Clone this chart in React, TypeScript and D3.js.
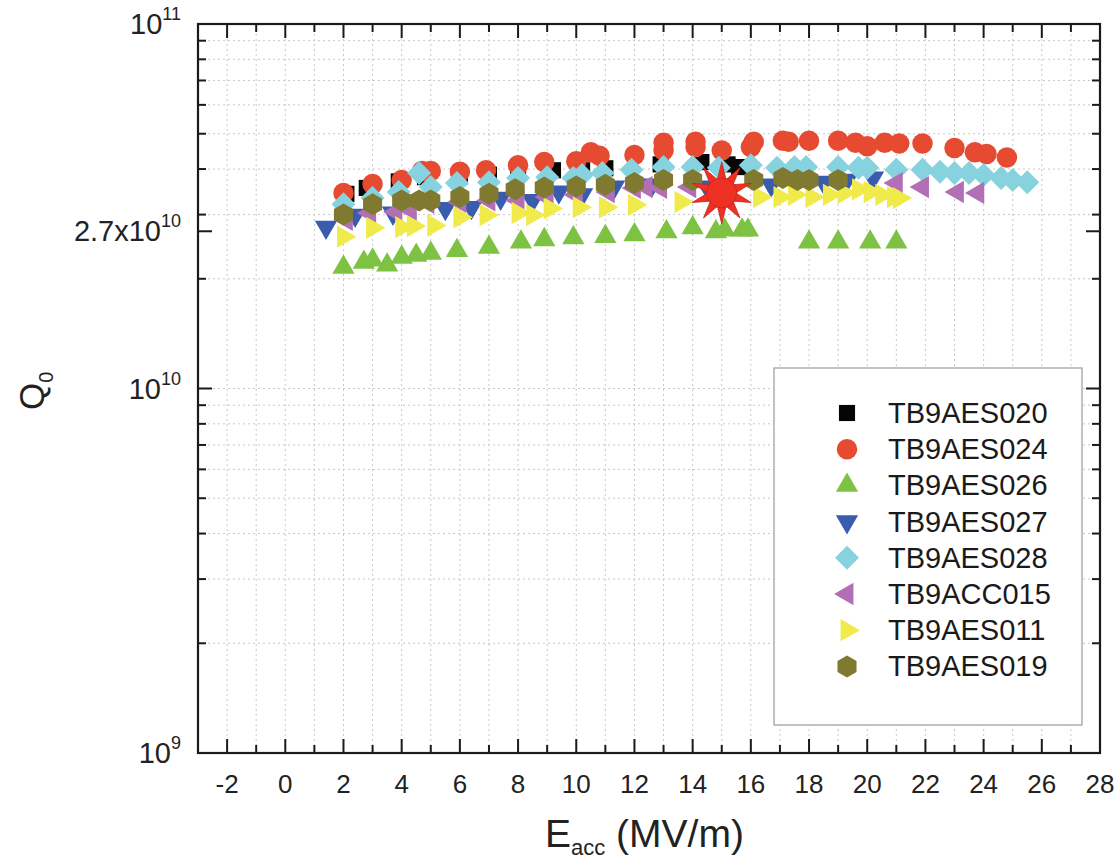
import React from "react";
import * as d3 from "d3";

// ---- data: [Eacc (MV/m), Q0] ----
const s020: [number, number][] = [
  [2.1, 3.42e10], [2.8, 3.55e10], [3.9, 3.7e10], [4.8, 3.8e10], [6.0, 3.82e10], [7.0, 3.86e10],
  [8.0, 3.9e10], [9.2, 3.97e10], [10.2, 3.97e10], [11.0, 4.02e10], [12.9, 4.12e10], [14.3, 4.18e10],
  [15.2, 4.12e10], [15.6, 4.05e10],
];
const s024: [number, number][] = [
  [2.0, 3.44e10], [3.0, 3.64e10], [4.0, 3.73e10], [4.7, 3.95e10], [5.0, 3.95e10], [6.0, 3.93e10],
  [6.9, 3.97e10], [8.0, 4.1e10], [8.9, 4.18e10], [10.0, 4.2e10], [10.5, 4.45e10], [10.8, 4.35e10],
  [12.0, 4.37e10], [13.0, 4.5e10], [13.0, 4.72e10], [14.1, 4.6e10], [14.1, 4.75e10], [15.0, 4.5e10],
  [16.0, 4.6e10], [16.1, 4.75e10], [17.1, 4.78e10], [17.3, 4.75e10], [18.0, 4.78e10], [19.0, 4.78e10],
  [19.6, 4.72e10], [20.0, 4.62e10], [20.6, 4.72e10], [21.1, 4.7e10], [21.9, 4.7e10], [23.0, 4.57e10],
  [23.7, 4.45e10], [24.1, 4.4e10], [24.8, 4.3e10],
];
const s026: [number, number][] = [
  [2.0, 2.15e10], [2.7, 2.22e10], [3.0, 2.25e10], [3.5, 2.18e10], [4.0, 2.29e10], [4.5, 2.32e10],
  [5.0, 2.35e10], [5.9, 2.39e10], [7.0, 2.44e10], [8.1, 2.52e10], [8.9, 2.56e10], [9.9, 2.59e10],
  [11.0, 2.61e10], [12.0, 2.64e10], [13.1, 2.69e10], [14.0, 2.76e10], [14.8, 2.69e10], [15.1, 2.72e10],
  [15.7, 2.72e10], [15.9, 2.72e10], [18.0, 2.52e10], [19.0, 2.52e10], [20.1, 2.52e10], [21.0, 2.52e10],
];
const s027: [number, number][] = [
  [1.4, 2.77e10], [2.4, 2.99e10], [3.7, 3.03e10], [5.5, 3.12e10], [6.4, 3.14e10], [7.4, 3.33e10],
  [8.5, 3.28e10], [9.4, 3.46e10], [10.2, 3.4e10], [11.3, 3.57e10], [12.6, 3.62e10], [14.5, 3.57e10],
  [16.7, 3.62e10], [18.5, 3.68e10], [19.3, 3.73e10], [20.2, 3.78e10],
];
const s028: [number, number][] = [
  [2.0, 3.2e10], [3.0, 3.33e10], [3.9, 3.46e10], [4.6, 3.9e10], [5.0, 3.57e10], [5.9, 3.66e10],
  [7.0, 3.68e10], [8.0, 3.78e10], [9.0, 3.8e10], [9.9, 3.78e10], [10.2, 3.85e10], [10.9, 3.9e10],
  [11.9, 3.98e10], [13.0, 4.05e10], [14.0, 4.05e10], [14.9, 4.03e10], [16.0, 4.1e10], [16.9, 4.03e10],
  [17.5, 4.05e10], [17.9, 4.05e10], [19.0, 4.05e10], [19.7, 4.03e10], [20.0, 4.03e10], [21.0, 3.98e10],
  [21.9, 3.98e10], [22.5, 3.93e10], [23.0, 3.9e10], [23.5, 3.9e10], [24.0, 3.85e10], [24.6, 3.78e10],
  [25.0, 3.73e10], [25.5, 3.68e10],
];
const sACC015: [number, number][] = [
  [2.1, 2.9e10], [2.9, 3.03e10], [3.8, 3.05e10], [4.3, 3.09e10], [4.9, 3.23e10], [6.0, 3.25e10],
  [7.0, 3.28e10], [8.0, 3.28e10], [9.0, 3.35e10], [10.0, 3.4e10], [11.1, 3.46e10], [12.0, 3.55e10],
  [12.4, 3.57e10], [12.9, 3.55e10], [13.9, 3.57e10], [21.0, 3.66e10], [21.9, 3.57e10], [23.1, 3.46e10],
  [23.8, 3.44e10],
];
const s011: [number, number][] = [
  [2.0, 2.61e10], [3.0, 2.76e10], [4.0, 2.77e10], [4.4, 2.79e10], [5.1, 2.8e10], [6.0, 2.95e10],
  [6.9, 2.99e10], [8.0, 3.03e10], [8.5, 2.99e10], [9.1, 3.12e10], [10.1, 3.14e10], [11.0, 3.14e10],
  [12.0, 3.19e10], [13.6, 3.25e10], [16.3, 3.35e10], [17.0, 3.35e10], [17.5, 3.4e10], [18.1, 3.35e10],
  [18.7, 3.4e10], [19.2, 3.44e10], [19.7, 3.52e10], [20.1, 3.46e10], [20.5, 3.4e10], [20.9, 3.35e10],
  [21.1, 3.33e10],
];
const s019: [number, number][] = [
  [2.0, 3.0e10], [3.0, 3.2e10], [4.0, 3.28e10], [4.6, 3.28e10], [5.0, 3.28e10], [6.0, 3.35e10],
  [7.0, 3.42e10], [7.9, 3.52e10], [8.9, 3.56e10], [10.0, 3.58e10], [11.0, 3.62e10], [12.0, 3.66e10],
  [13.0, 3.73e10], [14.0, 3.73e10], [16.1, 3.73e10], [17.1, 3.78e10], [17.6, 3.73e10], [18.0, 3.73e10],
  [19.0, 3.73e10],
];
const highlight: [number, number][] = [[15.0, 3.44e10]];

const seriesNames = ["TB9AES020", "TB9AES024", "TB9AES026", "TB9AES027", "TB9AES028", "TB9ACC015", "TB9AES011", "TB9AES019"];
const seriesData = [s020, s024, s026, s027, s028, sACC015, s011, s019];
const seriesColors = ["#050505", "#e64a31", "#7dc242", "#3a5cae", "#86d3df", "#b26fb6", "#f0ea4a", "#807a30"];
const seriesShapes = ["square", "circle", "up", "down", "diamond", "left", "right", "hex"];

const xMajorTicks = d3.range(-2, 29, 2);
const xMinorTicks = d3.range(-1, 28, 2);
const xGrid = d3.range(-2, 28, 1);
const yMajorTicks = [1e9, 1e10, 2.7e10, 1e11];
const yMajorLabels: [string, string][] = [["10", "9"], ["10", "10"], ["2.7x10", "10"], ["10", "11"]];
const yMinorTicks = [2e9, 3e9, 4e9, 5e9, 6e9, 7e9, 8e9, 9e9, 2e10, 3e10, 4e10, 5e10, 6e10, 7e10, 8e10, 9e10];
const yGrid = [...yMinorTicks, 1e10];

const FONT = "'Liberation Sans', Arial, Helvetica, sans-serif";

const W = 1120, H = 862;
const L = 198, R = 1100, T = 24, B = 753;

const x = d3.scaleLinear().domain([-3, 28]).range([L, R]);
const y = d3.scaleLog().domain([1e9, 1e11]).range([B, T]);

function polyPath(pts: [number, number][]) {
  return "M" + pts.map((p) => p[0].toFixed(2) + "," + p[1].toFixed(2)).join("L") + "Z";
}

const symSquare = d3.symbol().type(d3.symbolSquare).size(260)()!;
const symCircle = d3.symbol().type(d3.symbolCircle).size(330)()!;
const symTri = d3.symbol().type(d3.symbolTriangle).size(215)()!;
const diamondPath = (() => {
  const r = 12;
  return polyPath([[0, -r], [r, 0], [0, r], [-r, 0]]);
})();
const hexPath = (() => {
  const r = 11;
  const pts: [number, number][] = d3.range(6).map((i) => {
    const a = (Math.PI / 3) * i + Math.PI / 6;
    return [r * Math.cos(a), r * Math.sin(a)];
  });
  return polyPath(pts);
})();
const starPath = (() => {
  const n = 10, ro = 31, ri = 14;
  const pts: [number, number][] = [];
  for (let i = 0; i < n * 2; i++) {
    const a = (Math.PI / n) * i - Math.PI / 2;
    const r = i % 2 === 0 ? ro : ri;
    pts.push([r * Math.cos(a), r * Math.sin(a)]);
  }
  return polyPath(pts);
})();

function Marker({ shape, color, cx, cy }: { shape: string; color: string; cx: number; cy: number }) {
  let d = symSquare;
  let rot = 0;
  if (shape === "circle") d = symCircle;
  else if (shape === "up") d = symTri;
  else if (shape === "down") { d = symTri; rot = 180; }
  else if (shape === "left") { d = symTri; rot = -90; }
  else if (shape === "right") { d = symTri; rot = 90; }
  else if (shape === "diamond") d = diamondPath;
  else if (shape === "hex") d = hexPath;
  return <path d={d} fill={color} transform={`translate(${cx},${cy}) rotate(${rot})`} />;
}

export default function App() {
  const axisColor = "#1a1a1a";
  return (
    <div style={{ position: "absolute", left: 0, top: 0 }}>
      <svg width={W} height={H} style={{ display: "block", background: "#fff" }} fontFamily={FONT}>
        {/* grid */}
        <g stroke="#c8c8c8" strokeWidth={1} strokeDasharray="2,3">
          {xGrid.map((v) => (
            <line key={"gx" + v} x1={x(v)} x2={x(v)} y1={T} y2={B} />
          ))}
          {yGrid.map((v) => (
            <line key={"gy" + v} x1={L} x2={R} y1={y(v)} y2={y(v)} />
          ))}
        </g>

        {/* series */}
        {seriesData.map((data, si) => (
          <g key={"s" + si}>
            {data.map((p, i) => (
              <Marker key={i} shape={seriesShapes[si]} color={seriesColors[si]} cx={x(p[0])} cy={y(p[1])} />
            ))}
          </g>
        ))}

        {/* highlight star */}
        {highlight.map((p, i) => (
          <g key={"h" + i} transform={`translate(${x(p[0])},${y(p[1])})`}>
            <path d={starPath} fill="#ee3124" stroke="#c4261c" strokeWidth={0.8} />
            <circle r={15} fill="#ee3124" stroke="#c4261c" strokeWidth={0.8} />
          </g>
        ))}

        {/* ticks */}
        <g stroke={axisColor} strokeWidth={2}>
          {xMajorTicks.map((v) => (
            <g key={"xt" + v}>
              <line x1={x(v)} x2={x(v)} y1={B} y2={B - 14} />
              <line x1={x(v)} x2={x(v)} y1={T} y2={T + 14} />
            </g>
          ))}
          {xMinorTicks.map((v) => (
            <g key={"xm" + v}>
              <line x1={x(v)} x2={x(v)} y1={B} y2={B - 8} />
              <line x1={x(v)} x2={x(v)} y1={T} y2={T + 8} />
            </g>
          ))}
          {yMajorTicks.map((v) => (
            <g key={"yt" + v}>
              <line x1={L} x2={L + 14} y1={y(v)} y2={y(v)} />
              <line x1={R} x2={R - 14} y1={y(v)} y2={y(v)} />
            </g>
          ))}
          {yMinorTicks.map((v) => (
            <g key={"ym" + v}>
              <line x1={L} x2={L + 8} y1={y(v)} y2={y(v)} />
              <line x1={R} x2={R - 8} y1={y(v)} y2={y(v)} />
            </g>
          ))}
        </g>

        {/* frame */}
        <rect x={L} y={T} width={R - L} height={B - T} fill="none" stroke={axisColor} strokeWidth={2.2} />

        {/* x tick labels */}
        <g fontSize={26} fill="#222" textAnchor="middle">
          {xMajorTicks.map((v) => (
            <text key={"xl" + v} x={x(v)} y={793}>{v}</text>
          ))}
        </g>

        {/* y tick labels */}
        <g fill="#222" textAnchor="end">
          {yMajorTicks.map((v, i) => (
            <text key={"yl" + v} x={181} y={y(v) + 10} fontSize={29}>
              {yMajorLabels[i][0]}
              <tspan fontSize={18} dy={-14}>{yMajorLabels[i][1]}</tspan>
            </text>
          ))}
        </g>

        {/* axis titles */}
        <text x={545} y={847} fontSize={39} fill="#222">
          E<tspan fontSize={22} dy={8}>acc</tspan>
          <tspan dy={-8}> (MV/m)</tspan>
        </text>
        <text transform="translate(44,410) rotate(-90)" fontSize={35} fill="#222">
          Q<tspan fontSize={20} dy={9}>0</tspan>
        </text>

        {/* legend */}
        <rect x={774} y={368} width={308} height={357} fill="#fff" stroke="#9a9a9a" strokeWidth={1.2} />
        {seriesNames.map((name, i) => {
          const cy = 413 + i * 36.2;
          return (
            <g key={"lg" + i}>
              <Marker shape={seriesShapes[i]} color={seriesColors[i]} cx={847} cy={cy} />
              <text x={888} y={cy + 10} fontSize={29} fill="#1a1a1a">{name}</text>
            </g>
          );
        })}
      </svg>
    </div>
  );
}
